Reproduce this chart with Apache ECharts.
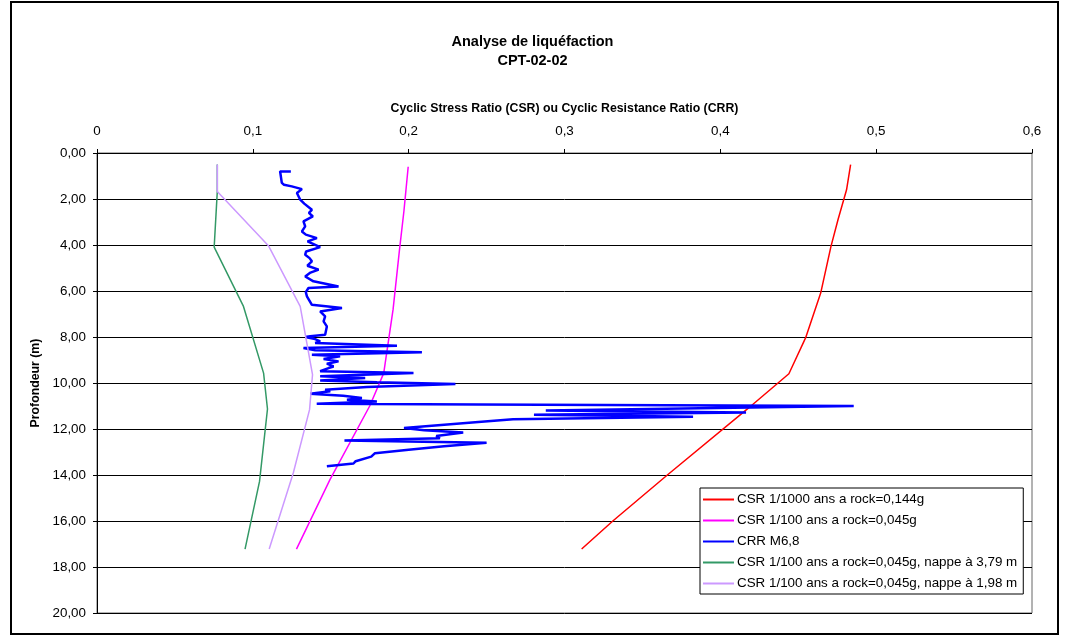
<!DOCTYPE html>
<html>
<head>
<meta charset="utf-8">
<title>Analyse de liquéfaction</title>
<script src="https://cdn.jsdelivr.net/npm/echarts@6/dist/echarts.min.js"></script>
<style>
    html, body { margin: 0; padding: 0; background: #fff; }
    #chart { width: 1065px; height: 637px; }
</style>
</head>
<body>
<div id="chart"></div>
<script>
// series names as in the legend
var seriesNames = [
    'CSR 1/1000 ans a rock=0,144g',
    'CSR 1/100 ans a rock=0,045g',
    'CRR M6,8',
    'CSR 1/100 ans a rock=0,045g, nappe à 3,79 m',
    'CSR 1/100 ans a rock=0,045g, nappe à 1,98 m'
];

// CSR 1/1000 ans (red)
var redDepth = [0.51, 1.6, 2.9, 4.06, 6.09, 8.04, 9.6, 11.15, 14.0, 16.0, 17.22];
var redCsr   = [0.4836, 0.481, 0.4755, 0.471, 0.4644, 0.4547, 0.444, 0.417, 0.366, 0.331, 0.311];

// CSR 1/100 ans (magenta)
var magDepth = [0.6, 2.5, 4.28, 6.8, 9.57, 11.0, 14.2, 17.22];
var magCsr   = [0.1997, 0.197, 0.194, 0.190, 0.184, 0.175, 0.1495, 0.128];

// CSR nappe 3,79 m (green)
var greenDepth = [0.5, 1.67, 4.09, 6.67, 9.57, 11.13, 14.28, 17.22];
var greenCsr   = [0.0772, 0.0772, 0.0752, 0.094, 0.1069, 0.1094, 0.1043, 0.095];

// CSR nappe 1,98 m (lilac)
var lilacDepth = [0.5, 1.67, 4.03, 6.67, 9.64, 11.16, 13.9, 17.22];
var lilacCsr   = [0.0772, 0.0772, 0.110, 0.1304, 0.1383, 0.1364, 0.126, 0.1105];

// CRR M6,8 (blue)
var crrDepth = [
    0.80, 0.80, 1.30, 1.38, 1.45, 1.57, 1.74, 2.03, 2.20, 2.47,
    2.60, 2.76, 2.97, 3.19, 3.41, 3.55, 3.70, 3.84, 4.09, 4.28,
    4.42, 4.57, 4.71, 4.90, 5.07, 5.20, 5.37, 5.58, 5.80, 5.87,
    6.05, 6.23, 6.60, 6.74, 6.89, 7.10, 7.32, 7.54, 7.90, 7.97,
    8.00, 8.09, 8.19, 8.26, 8.38, 8.48, 8.58, 8.66, 8.77, 8.84,
    8.96, 9.06, 9.16, 9.28, 9.35, 9.49, 9.57, 9.71, 9.78, 9.89,
    9.97, 10.04, 10.17, 10.29, 10.36, 10.47, 10.55, 10.65, 10.73, 10.80,
    10.90, 10.93, 11.00, 11.20, 11.28, 11.38, 11.47, 11.58, 11.70, 11.96,
    12.05, 12.15, 12.30, 12.40, 12.50, 12.60, 12.75, 12.90, 13.05, 13.20,
    13.40, 13.50, 13.62
];
var crrValue = [
    0.1244, 0.1175, 0.1186, 0.1200, 0.1250, 0.1315, 0.1283, 0.1304, 0.1330, 0.1379,
    0.1360, 0.1385, 0.1325, 0.1336, 0.1315, 0.1340, 0.1411, 0.1351, 0.1432, 0.1342,
    0.1336, 0.1364, 0.1379, 0.1350, 0.1422, 0.1370, 0.1336, 0.1389, 0.1550, 0.1357,
    0.1340, 0.1347, 0.1379, 0.1572, 0.1432, 0.1464, 0.1454, 0.1475, 0.1464, 0.1368,
    0.1336, 0.1400, 0.1432, 0.1400, 0.1925, 0.1325, 0.1400, 0.2085, 0.1379, 0.1560,
    0.1454, 0.1550, 0.1475, 0.1518, 0.1486, 0.1432, 0.2031, 0.1432, 0.1721, 0.1432,
    0.1796, 0.2300, 0.1732, 0.1464, 0.1497, 0.1368, 0.1580, 0.1700, 0.1604, 0.1796,
    0.1410, 0.2450, 0.4856, 0.2880, 0.4165, 0.2804, 0.3825, 0.2670, 0.2447, 0.1970,
    0.2100, 0.2350, 0.2177, 0.2200, 0.1588, 0.2500, 0.2227, 0.2000, 0.1784, 0.1760,
    0.1660, 0.1646, 0.1475
];

var seriesColors = ['#ff0000', '#ff00ff', '#0000ff', '#339966', '#cc99ff'];

function pairs(xs, ys) {
    var out = [];
    for (var i = 0; i < xs.length; i++) {
        out.push([xs[i], ys[i]]);
    }
    return out;
}

var chart = echarts.init(document.getElementById('chart'));

var lineData = [
    pairs(redCsr, redDepth),
    pairs(magCsr, magDepth),
    pairs(crrValue, crrDepth),
    pairs(greenCsr, greenDepth),
    pairs(lilacCsr, lilacDepth)
];

var series = [];
for (var i = 0; i < seriesNames.length; i++) {
    series.push({
        name: seriesNames[i],
        type: 'line',
        data: lineData[i],
        symbol: 'none',
        animation: false,
        lineStyle: { color: seriesColors[i], width: i === 2 ? 2.5 : 1.5 },
        itemStyle: { color: seriesColors[i] }
    });
}

var font = 'Liberation Sans, Arial, sans-serif';

var option = {
    backgroundColor: '#fff',
    textStyle: { fontFamily: font },
    title: {
        text: 'Analyse de liquéfaction\nCPT-02-02',
        left: 'center',
        top: 27,
        textStyle: { fontSize: 14.5, fontWeight: 'bold', color: '#000', lineHeight: 19, fontFamily: font }
    },
    legend: {
        orient: 'vertical',
        left: 700,
        top: 488,
        data: seriesNames,
        icon: 'rect',
        itemWidth: 31,
        itemHeight: 2,
        itemGap: 8,
        padding: [5, 6, 4, 3],
        borderColor: '#000',
        borderWidth: 1,
        backgroundColor: '#fff',
        textStyle: { fontSize: 13.4, color: '#000', fontFamily: font, padding: [0, 0, 0, -2] }
    },
    grid: {
        left: 97,
        right: 33,
        top: 153,
        bottom: 24,
        show: true,
        borderColor: '#666',
        borderWidth: 1
    },
    xAxis: {
        type: 'value',
        position: 'top',
        min: 0,
        max: 0.6,
        interval: 0.1,
        name: 'Cyclic Stress Ratio (CSR) ou Cyclic Resistance Ratio (CRR)',
        nameLocation: 'middle',
        nameGap: 38,
        nameTextStyle: { fontSize: 12.3, fontWeight: 'bold', color: '#000' },
        axisLine: { show: true, lineStyle: { color: '#000', width: 1 } },
        axisTick: { show: true, inside: false, length: 4, lineStyle: { color: '#000' } },
        axisLabel: {
            fontSize: 13.4,
            color: '#000',
            margin: 15,
            formatter: function (v) {
                return v === 0 ? '0' : String(+v.toFixed(1)).replace('.', ',');
            }
        },
        splitLine: { show: false }
    },
    yAxis: {
        type: 'value',
        inverse: true,
        min: 0,
        max: 20,
        interval: 2,
        name: 'Profondeur (m)',
        nameLocation: 'middle',
        nameGap: 51,
        nameRotate: 90,
        nameTextStyle: { fontSize: 12.3, fontWeight: 'bold', color: '#000' },
        axisLine: { show: true, lineStyle: { color: '#000', width: 1 } },
        axisTick: { show: true, inside: false, length: 4, lineStyle: { color: '#000' } },
        axisLabel: {
            fontSize: 13.4,
            color: '#000',
            margin: 11,
            formatter: function (v) {
                return v.toFixed(2).replace('.', ',');
            }
        },
        splitLine: { show: true, lineStyle: { color: '#000', width: 1 } }
    },
    graphic: [
        {
            type: 'rect',
            shape: { x: 11, y: 2, width: 1047, height: 632 },
            style: { fill: 'none', stroke: '#000', lineWidth: 2 },
            silent: true
        }
    ],
    series: series
};

chart.setOption(option);
</script>
</body>
</html>
